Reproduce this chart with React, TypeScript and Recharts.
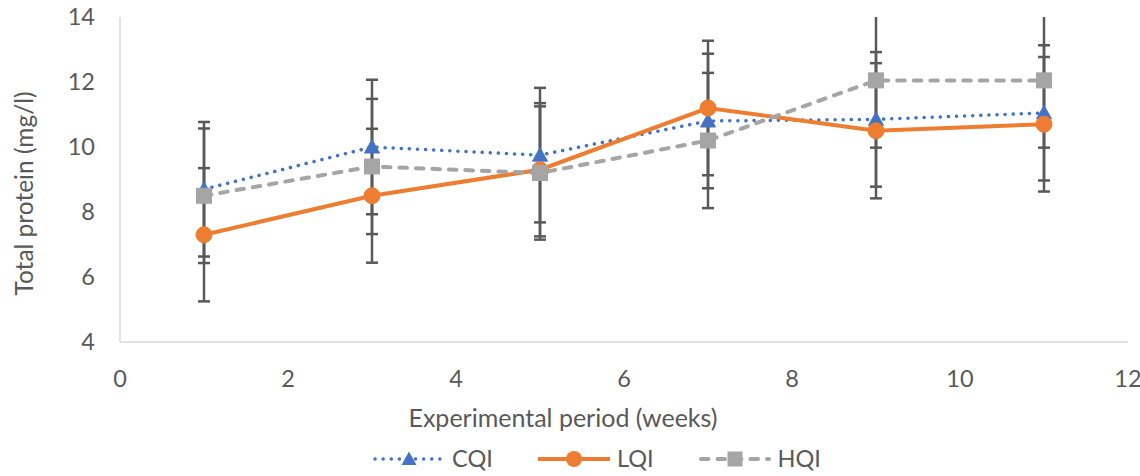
import React from 'react';
import { LineChart, Line, XAxis, YAxis, ErrorBar, Legend, Label } from 'recharts';

const weeks = [1, 3, 5, 7, 9, 11];
const cqi = [8.7, 10.0, 9.75, 10.8, 10.85, 11.05];
const lqi = [7.3, 8.5, 9.3, 11.2, 10.5, 10.7];
const hqi = [8.5, 9.4, 9.2, 10.2, 12.05, 12.05];
const cqiErr = [2.07, 2.07, 2.07, 2.07, 2.07, 2.08];
const lqiErr = [2.05, 2.06, 2.05, 2.07, 2.08, 2.07];
const hqiErr = [2.07, 2.08, 2.05, 2.08, 2.07, 2.07];
const xTicks = [0, 2, 4, 6, 8, 10, 12];
const yTicks = [4, 6, 8, 10, 12, 14];
const seriesNames = ['CQI', 'LQI', 'HQI'];

const data = weeks.map((w, i) => ({
  week: w,
  CQI: cqi[i],
  LQI: lqi[i],
  HQI: hqi[i],
  cqiErr: cqiErr[i],
  lqiErr: lqiErr[i],
  hqiErr: hqiErr[i],
}));

const W = 1140;
const H = 476;
const MARGIN = { top: 17, right: 12, bottom: 0, left: 0 };
const Y_AXIS_W = 120;
const X_AXIS_H = 100;
const LEGEND_H = 34;

const BLUE = '#4472C4';
const ORANGE = '#ED7D31';
const GRAY = '#A5A5A5';
const TEXT = '#595959';
const FONT = 'Lato, "Open Sans", sans-serif';
const FS = 23.5;

const Triangle = (props: any) => {
  const { cx, cy, index } = props;
  if (cx == null || cy == null) return <g key={`t-${index}`} />;
  const s = 7.5;
  return (
    <polygon
      key={`t-${index}`}
      points={`${cx},${cy - s} ${cx + s},${cy + s * 0.8} ${cx - s},${cy + s * 0.8}`}
      fill={BLUE}
      stroke={BLUE}
      strokeWidth={1}
    />
  );
};

const Square = (props: any) => {
  const { cx, cy, index } = props;
  if (cx == null || cy == null) return <g key={`s-${index}`} />;
  const s = 7.5;
  return <rect key={`s-${index}`} x={cx - s} y={cy - s} width={2 * s} height={2 * s} fill={GRAY} stroke={GRAY} strokeWidth={1} />;
};

const LegendIcon = ({ name }: { name: string }) => {
  const w = 72;
  const h = 22;
  const m = w / 2;
  const y = h / 2;
  if (name === 'CQI') {
    return (
      <svg width={w} height={h}>
        <line x1={2} y1={y} x2={w - 2} y2={y} stroke={BLUE} strokeWidth={3.5} strokeDasharray="0.1 8" strokeLinecap="round" />
        <polygon points={`${m},${y - 7.5} ${m + 7.5},${y + 6} ${m - 7.5},${y + 6}`} fill={BLUE} />
      </svg>
    );
  }
  if (name === 'LQI') {
    return (
      <svg width={w} height={h}>
        <line x1={0} y1={y} x2={w} y2={y} stroke={ORANGE} strokeWidth={4} />
        <circle cx={m} cy={y} r={8} fill={ORANGE} />
      </svg>
    );
  }
  return (
    <svg width={w} height={h}>
      <line x1={2} y1={y} x2={w - 2} y2={y} stroke={GRAY} strokeWidth={4} strokeDasharray="7.5 9" strokeLinecap="round" />
      <rect x={m - 7.5} y={y - 7.5} width={15} height={15} fill={GRAY} />
    </svg>
  );
};

const LegendContent = () => (
  <div style={{ display: 'flex', justifyContent: 'center', alignItems: 'center', gap: 45, paddingLeft: 66, fontFamily: FONT, height: LEGEND_H }}>
    {seriesNames.map((n) => (
      <div key={n} style={{ display: 'flex', alignItems: 'center', gap: 7 }}>
        <LegendIcon name={n} />
        <span style={{ color: TEXT, fontSize: FS, lineHeight: 1 }}>{n}</span>
      </div>
    ))}
  </div>
);

const plotX = MARGIN.left + Y_AXIS_W;
const plotY = MARGIN.top;
const plotW = W - MARGIN.left - MARGIN.right - Y_AXIS_W;
const plotH = H - MARGIN.top - MARGIN.bottom - X_AXIS_H - LEGEND_H;

export default function App() {
  return (
    <div style={{ position: 'absolute', left: 0, top: 0, width: W, height: H, background: '#fff', fontFamily: FONT }}>
      <style>{`.recharts-errorBars { clip-path: url(#ebClip); }`}</style>
      <svg width={0} height={0} style={{ position: 'absolute' }}>
        <defs>
          <clipPath id="ebClip" clipPathUnits="userSpaceOnUse">
            <rect x={plotX - 10} y={plotY} width={plotW + 20} height={plotH} />
          </clipPath>
        </defs>
      </svg>
      <LineChart width={W} height={H} data={data} margin={MARGIN} style={{ fontFamily: FONT }}>
        <XAxis
          dataKey="week"
          type="number"
          domain={[0, 12]}
          ticks={xTicks}
          height={X_AXIS_H}
          stroke="#D9D9D9"
          strokeWidth={1.5}
          tickLine={false}
          tickSize={0}
          tickMargin={28}
          tick={{ fill: TEXT, fontSize: FS }}
        >
          <Label
            content={({ viewBox }: any) => (
              <text x={viewBox.x + viewBox.width / 2 - 61} y={viewBox.y + 85} textAnchor="middle" fill={TEXT} fontSize={25} fontFamily={FONT}>
                Experimental period (weeks)
              </text>
            )}
          />
        </XAxis>
        <YAxis
          type="number"
          domain={[4, 14]}
          ticks={yTicks}
          allowDataOverflow
          width={Y_AXIS_W}
          stroke="#D9D9D9"
          strokeWidth={1.5}
          tickLine={false}
          tickSize={0}
          tickMargin={25}
          tick={{ fill: TEXT, fontSize: FS }}
        >
          <Label
            content={({ viewBox }: any) => {
              const x = 33;
              const y = viewBox.y + viewBox.height / 2 + 14;
              return (
                <text x={x} y={y} transform={`rotate(-90 ${x} ${y})`} textAnchor="middle" fill={TEXT} fontSize={24.5} fontFamily={FONT}>
                  Total protein (mg/l)
                </text>
              );
            }}
          />
        </YAxis>
        <Legend verticalAlign="bottom" height={LEGEND_H} content={LegendContent} />
        <Line dataKey="CQI" stroke="none" dot={false} activeDot={false} isAnimationActive={false} legendType="none">
          <ErrorBar dataKey="cqiErr" direction="y" width={6} stroke="#595959" strokeWidth={2.5} />
        </Line>
        <Line dataKey="LQI" stroke="none" dot={false} activeDot={false} isAnimationActive={false} legendType="none">
          <ErrorBar dataKey="lqiErr" direction="y" width={6} stroke="#595959" strokeWidth={2.5} />
        </Line>
        <Line dataKey="HQI" stroke="none" dot={false} activeDot={false} isAnimationActive={false} legendType="none">
          <ErrorBar dataKey="hqiErr" direction="y" width={6} stroke="#595959" strokeWidth={2.5} />
        </Line>
        <Line
          dataKey="CQI"
          type="linear"
          stroke={BLUE}
          strokeWidth={3.5}
          strokeDasharray="0.1 8"
          strokeLinecap="round"
          dot={Triangle}
          activeDot={false}
          isAnimationActive={false}
        />
        <Line
          dataKey="LQI"
          type="linear"
          stroke={ORANGE}
          strokeWidth={4}
          dot={{ r: 8, fill: ORANGE, stroke: ORANGE, strokeWidth: 1 }}
          activeDot={false}
          isAnimationActive={false}
        />
        <Line
          dataKey="HQI"
          type="linear"
          stroke={GRAY}
          strokeWidth={4}
          strokeDasharray="7.5 9"
          strokeLinecap="round"
          dot={Square}
          activeDot={false}
          isAnimationActive={false}
        />
      </LineChart>
    </div>
  );
}
